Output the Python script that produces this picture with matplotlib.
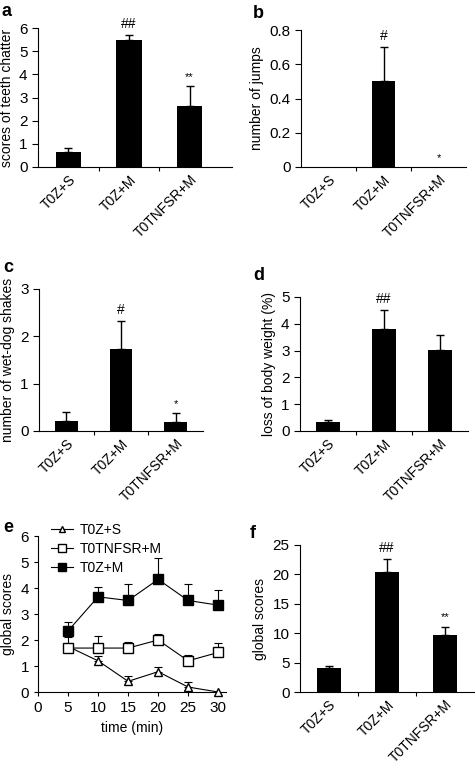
import numpy as np
import matplotlib
matplotlib.use('Agg')
import matplotlib.pyplot as plt
from matplotlib.lines import Line2D

plt.rcParams['font.family'] = ['Liberation Sans', 'DejaVu Sans']

groups = ['T0Z+S', 'T0Z+M', 'T0TNFSR+M']

# bar panels: mean, upper error, significance mark
chatter = [0.65, 5.49, 2.63]
chatter_err = [0.15, 0.22, 0.87]
chatter_sig = ['', '##', '**']

jumps = [0.0, 0.50, 0.0]
jumps_err = [0.0, 0.20, 0.0]
jumps_sig = ['', '#', '*']

shakes = [0.22, 1.73, 0.18]
shakes_err = [0.19, 0.59, 0.19]
shakes_sig = ['', '#', '*']

weight = [0.32, 3.80, 3.03]
weight_err = [0.08, 0.73, 0.57]
weight_sig = ['', '##', '']

glob = [4.15, 20.4, 9.7]
glob_err = [0.25, 2.2, 1.4]
glob_sig = ['', '##', '**']

# time course (panel e)
time_min = [5, 10, 15, 20, 25, 30]
s_mean = [1.75, 1.20, 0.41, 0.78, 0.19, 0.0]
s_err = [0.10, 0.17, 0.19, 0.18, 0.18, 0.0]
tn_mean = [1.69, 1.69, 1.69, 2.00, 1.20, 1.52]
tn_err = [0.42, 0.48, 0.25, 0.22, 0.23, 0.38]
m_mean = [2.35, 3.66, 3.52, 4.33, 3.52, 3.34]
m_err = [0.36, 0.37, 0.62, 0.81, 0.62, 0.59]

fig = plt.figure(figsize=(4.76, 7.64), dpi=100)
W, H = 476, 764


def rect(l, r, t, b):
    return [l / W, 1 - b / H, (r - l) / W, (b - t) / H]


def up_errors(ax, x, vals, errs, lw=1):
    # only the upper half of each error bar, skip empty ones
    x, vals, errs = np.asarray(x, float), np.asarray(vals, float), np.asarray(errs, float)
    keep = errs > 0
    ax.errorbar(x[keep], vals[keep], yerr=[np.zeros(keep.sum()), errs[keep]],
                fmt='none', ecolor='black', elinewidth=lw, capsize=3,
                capthick=lw, zorder=1)


def bar_panel(rect_, vals, errs, sigs, ylim, yticks, ylabel, xmax=2.5):
    ax = fig.add_axes(rect_)
    x = np.arange(len(groups))
    ax.bar(x, vals, width=0.42, color='black', linewidth=0, zorder=2)
    up_errors(ax, x, vals, errs)
    for xi, v, e, s in zip(x, vals, errs, sigs):
        if s:
            fs = 10 if '#' in s else 8
            ax.text(xi, v + e + ylim[1] * 0.03, s, ha='center', va='bottom', fontsize=fs)
    ax.set_xlim(-0.5, xmax)
    ax.set_ylim(*ylim)
    ax.set_yticks(yticks)
    ax.set_yticklabels([('%g' % t) for t in yticks])
    ax.set_xticks([0.5, 1.5])
    ax.set_xticklabels([])
    ax.set_xticks(x, minor=True)
    ax.set_xticklabels(groups, minor=True, rotation=45, ha='right',
                       rotation_mode='anchor', fontsize=10)
    ax.tick_params(axis='x', which='minor', length=0, pad=4)
    ax.tick_params(axis='x', which='major', length=3, direction='out')
    ax.tick_params(axis='y', length=4, direction='out', labelsize=11)
    for sp in ['top', 'right']:
        ax.spines[sp].set_visible(False)
    ax.set_ylabel(ylabel, fontsize=10)
    return ax


bar_panel(rect(38, 232, 28, 167), chatter, chatter_err, chatter_sig, (0, 6),
          [0, 1, 2, 3, 4, 5, 6], 'scores of teeth chatter', xmax=2.7)
bar_panel(rect(301, 466, 30, 167), jumps, jumps_err, jumps_sig, (0, 0.8),
          [0, 0.2, 0.4, 0.6, 0.8], 'number of jumps')
bar_panel(rect(39, 203, 289, 431), shakes, shakes_err, shakes_sig, (0, 3),
          [0, 1, 2, 3], 'number of wet-dog shakes')
bar_panel(rect(300, 468, 297, 431), weight, weight_err, weight_sig, (0, 5),
          [0, 1, 2, 3, 4, 5], 'loss of body weight (%)')
bar_panel(rect(300, 474, 545, 692), glob, glob_err, glob_sig, (0, 25),
          [0, 5, 10, 15, 20, 25], 'global scores')

# panel e
ax = fig.add_axes(rect(38, 226, 536, 692))
series = [
    (s_mean, s_err, 'T0Z+S', '^', 'white', 6),
    (tn_mean, tn_err, 'T0TNFSR+M', 's', 'white', 6.5),
    (m_mean, m_err, 'T0Z+M', 's', 'black', 7),
]
handles = []
for mean, err, lab, mk, fc, ms in series:
    up_errors(ax, time_min, mean, err, lw=0.8)
    ax.plot(time_min, mean, color='black', lw=0.8, marker=mk, ms=ms,
            mfc=fc, mec='black', clip_on=False, zorder=3)
    handles.append(Line2D([], [], color='black', lw=0.8, marker=mk, ms=ms - 1,
                          mfc=fc, mec='black', label=lab))
ax.set_xlim(0, 31.3)
ax.set_ylim(0, 6)
ax.set_xticks([0, 5, 10, 15, 20, 25, 30])
ax.set_yticks([0, 1, 2, 3, 4, 5, 6])
ax.tick_params(axis='both', length=3, direction='out', labelsize=11)
for sp in ['top', 'right']:
    ax.spines[sp].set_visible(False)
ax.set_ylabel('global scores', fontsize=10)
ax.set_xlabel('time (min)', fontsize=10)
ax.legend(handles=handles, loc='upper left', bbox_to_anchor=(0.04, 1.12),
          frameon=False, fontsize=10, handlelength=1.6, handletextpad=0.5,
          labelspacing=0.35, borderaxespad=0)

# panel letters
for letter, (px, py) in zip('abcdef', [(2, 12), (253, 14), (3, 268), (253, 275),
                                        (3, 527), (250, 533)]):
    fig.text(px / W, 1 - py / H, letter, fontsize=13, fontweight='bold',
             va='center', ha='left')

fig.savefig('out.png', dpi=100)
